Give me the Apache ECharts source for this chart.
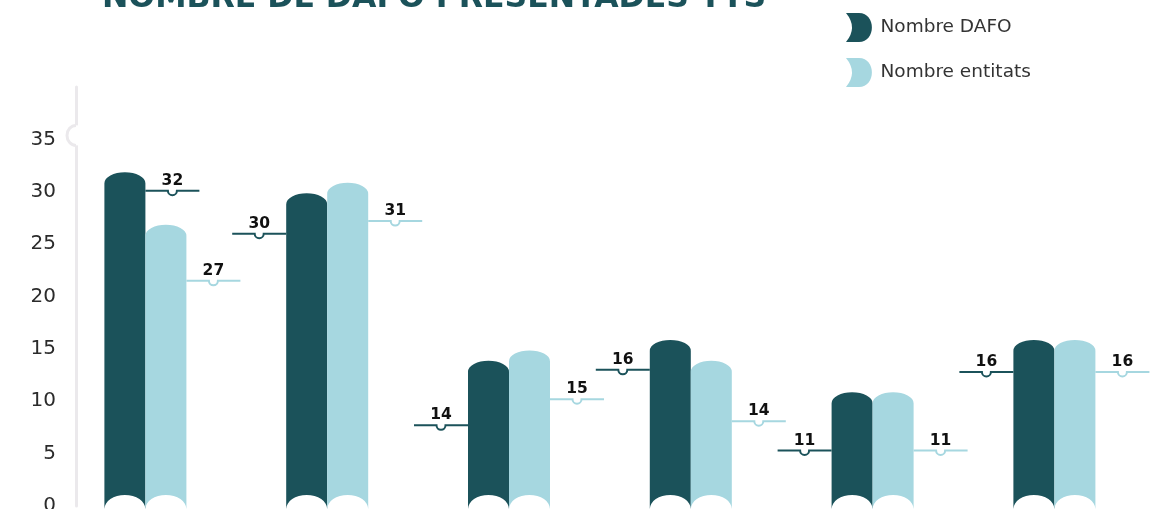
<!DOCTYPE html>
<html>
<head>
<meta charset="utf-8">
<script src="https://cdn.jsdelivr.net/npm/echarts@6/dist/echarts.min.js"></script>
<style>
html,body{margin:0;padding:0;background:#fff;}
#chart{width:1150px;height:509px;}
</style>
</head>
<body>
<div id="chart"></div>
<script>
// ---- data ----
const categories = ['1', '2', '3', '4', '5', '6'];
const seriesNames = ['Nombre DAFO', 'Nombre entitats'];
const dafo = [32, 30, 14, 16, 11, 16];
const entitats = [27, 31, 15, 14, 11, 16];
// height (in axis units) at which each value callout is drawn
const dafoCallout = [30.1, 26.0, 7.7, 13.0, 5.3, 12.8];
const entitatsCallout = [21.5, 27.2, 10.2, 8.1, 5.3, 12.8];
const yTicks = [0, 5, 10, 15, 20, 25, 30, 35];
const titleText = 'NOMBRE DE DAFO PRESENTADES TTS';

// ---- style ----
const DARK = '#1b525a';
const LIGHT = '#a6d7e0';
const AXIS_GRAY = '#ebe9ec';
const BAR_W = 41;
const GRID_LEFT = 54.5;
const AXIS_SHIFT = 21.5;
const FONT = 'DejaVu Sans';
const LEGEND_ICON = 'path://M0,0 H13 C30.3,0 30.3,29 13,29 H0 Q12,14.5 0,0 Z';

const chart = echarts.init(document.getElementById('chart'), null, {renderer: 'canvas'});

function barRender(isDark, values, callouts) {
  return function (params, api) {
    const idx = api.value(0);
    const v = api.value(1);
    const top = api.coord([idx, v]);
    const base = api.coord([idx, 0]);
    const cx = top[0];
    const x0 = isDark ? cx - BAR_W : cx;
    const x1 = isDark ? cx : cx + BAR_W;
    const yTop = top[1] + 1.5;
    const ry = 11;
    const yb = base[1] + 3;
    const rx = BAR_W / 2;
    const color = isDark ? DARK : LIGHT;
    const barPath =
      'M' + x0 + ',' + yb +
      ' L' + x0 + ',' + (yTop + ry) +
      ' A' + rx + ',' + ry + ' 0 0 1 ' + x1 + ',' + (yTop + ry) +
      ' L' + x1 + ',' + yb +
      ' A' + rx + ',14 0 0 0 ' + x0 + ',' + yb + ' Z';

    const ly = api.coord([idx, callouts[params.dataIndex]])[1];
    const toRight = !isDark || idx === 0;
    const len = 54;
    const lx0 = toRight ? x1 : x0 - len;
    const lx1 = toRight ? x1 + len : x0;
    const m = (lx0 + lx1) / 2;
    const r = 4.5;
    const linePath =
      'M' + lx0 + ',' + ly + ' L' + (m - r) + ',' + ly +
      ' A' + r + ',' + r + ' 0 0 0 ' + (m + r) + ',' + ly +
      ' L' + lx1 + ',' + ly;

    return {
      type: 'group',
      children: [
        {type: 'path', shape: {pathData: barPath}, style: {fill: color}},
        {type: 'path', shape: {pathData: linePath}, style: {fill: null, stroke: color, lineWidth: 2}},
        {type: 'text', style: {
          text: String(v), x: m, y: ly - 10, align: 'center', verticalAlign: 'middle',
          fill: '#111', font: 'bold 15.5px "' + FONT + '"'
        }}
      ]
    };
  };
}

const option = {
  animation: false,
  backgroundColor: '#fff',
  grid: {left: GRID_LEFT, width: 1090.8, top: 87, bottom: 3, containLabel: false, outerBoundsMode: 'none'},
  xAxis: {
    type: 'category', data: categories, boundaryGap: true,
    axisLine: {show: false}, axisTick: {show: false}, axisLabel: {show: false}, splitLine: {show: false}
  },
  yAxis: {
    type: 'value', min: 0, max: 40, interval: 5, offset: -AXIS_SHIFT,
    axisLine: {show: true, lineStyle: {color: AXIS_GRAY, width: 3}},
    axisTick: {show: false}, splitLine: {show: false},
    axisLabel: {
      margin: 20, fontSize: 20, color: '#2b2b2b', fontFamily: FONT,
      formatter: function (val) { return yTicks.indexOf(val) >= 0 ? String(val) : ''; }
    }
  },
  legend: {
    orient: 'vertical', left: 846, top: 13, padding: 0, itemWidth: 27, itemHeight: 29, itemGap: 16,
    textStyle: {fontSize: 18.5, color: '#333', fontFamily: FONT, padding: [0, 0, 0, 3]},
    data: [
      {name: seriesNames[0], icon: LEGEND_ICON},
      {name: seriesNames[1], icon: LEGEND_ICON}
    ]
  },
  graphic: [{
    type: 'text', left: 102, top: -17,
    style: {text: titleText, fill: DARK, font: '900 31.5px "' + FONT + '"'}
  }],
  series: [
    {
      name: seriesNames[0], type: 'custom', clip: false,
      itemStyle: {color: DARK},
      encode: {x: 0, y: 1},
      data: dafo.map(function (v, i) { return [i, v]; }),
      renderItem: barRender(true, dafo, dafoCallout)
    },
    {
      name: seriesNames[1], type: 'custom', clip: false,
      itemStyle: {color: LIGHT},
      encode: {x: 0, y: 1},
      data: entitats.map(function (v, i) { return [i, v]; }),
      renderItem: barRender(false, entitats, entitatsCallout)
    },
    {
      name: 'axisNotch', type: 'custom', clip: false, silent: true,
      data: [[0, yTicks[yTicks.length - 1]]],
      renderItem: function (params, api) {
        const p = api.coord([0, api.value(1)]);
        const ax = params.coordSys.x + AXIS_SHIFT;
        const yc = p[1] - 4;
        return {
          type: 'group',
          children: [
            {type: 'rect', shape: {x: ax - 3, y: yc - 10, width: 6, height: 20}, style: {fill: '#fff'}},
            {type: 'path', shape: {pathData: 'M' + ax + ',' + (yc - 10) + ' A9,10 0 0 0 ' + ax + ',' + (yc + 10)},
             style: {fill: null, stroke: AXIS_GRAY, lineWidth: 3}}
          ]
        };
      }
    }
  ]
};
chart.setOption(option);
</script>
</body>
</html>
